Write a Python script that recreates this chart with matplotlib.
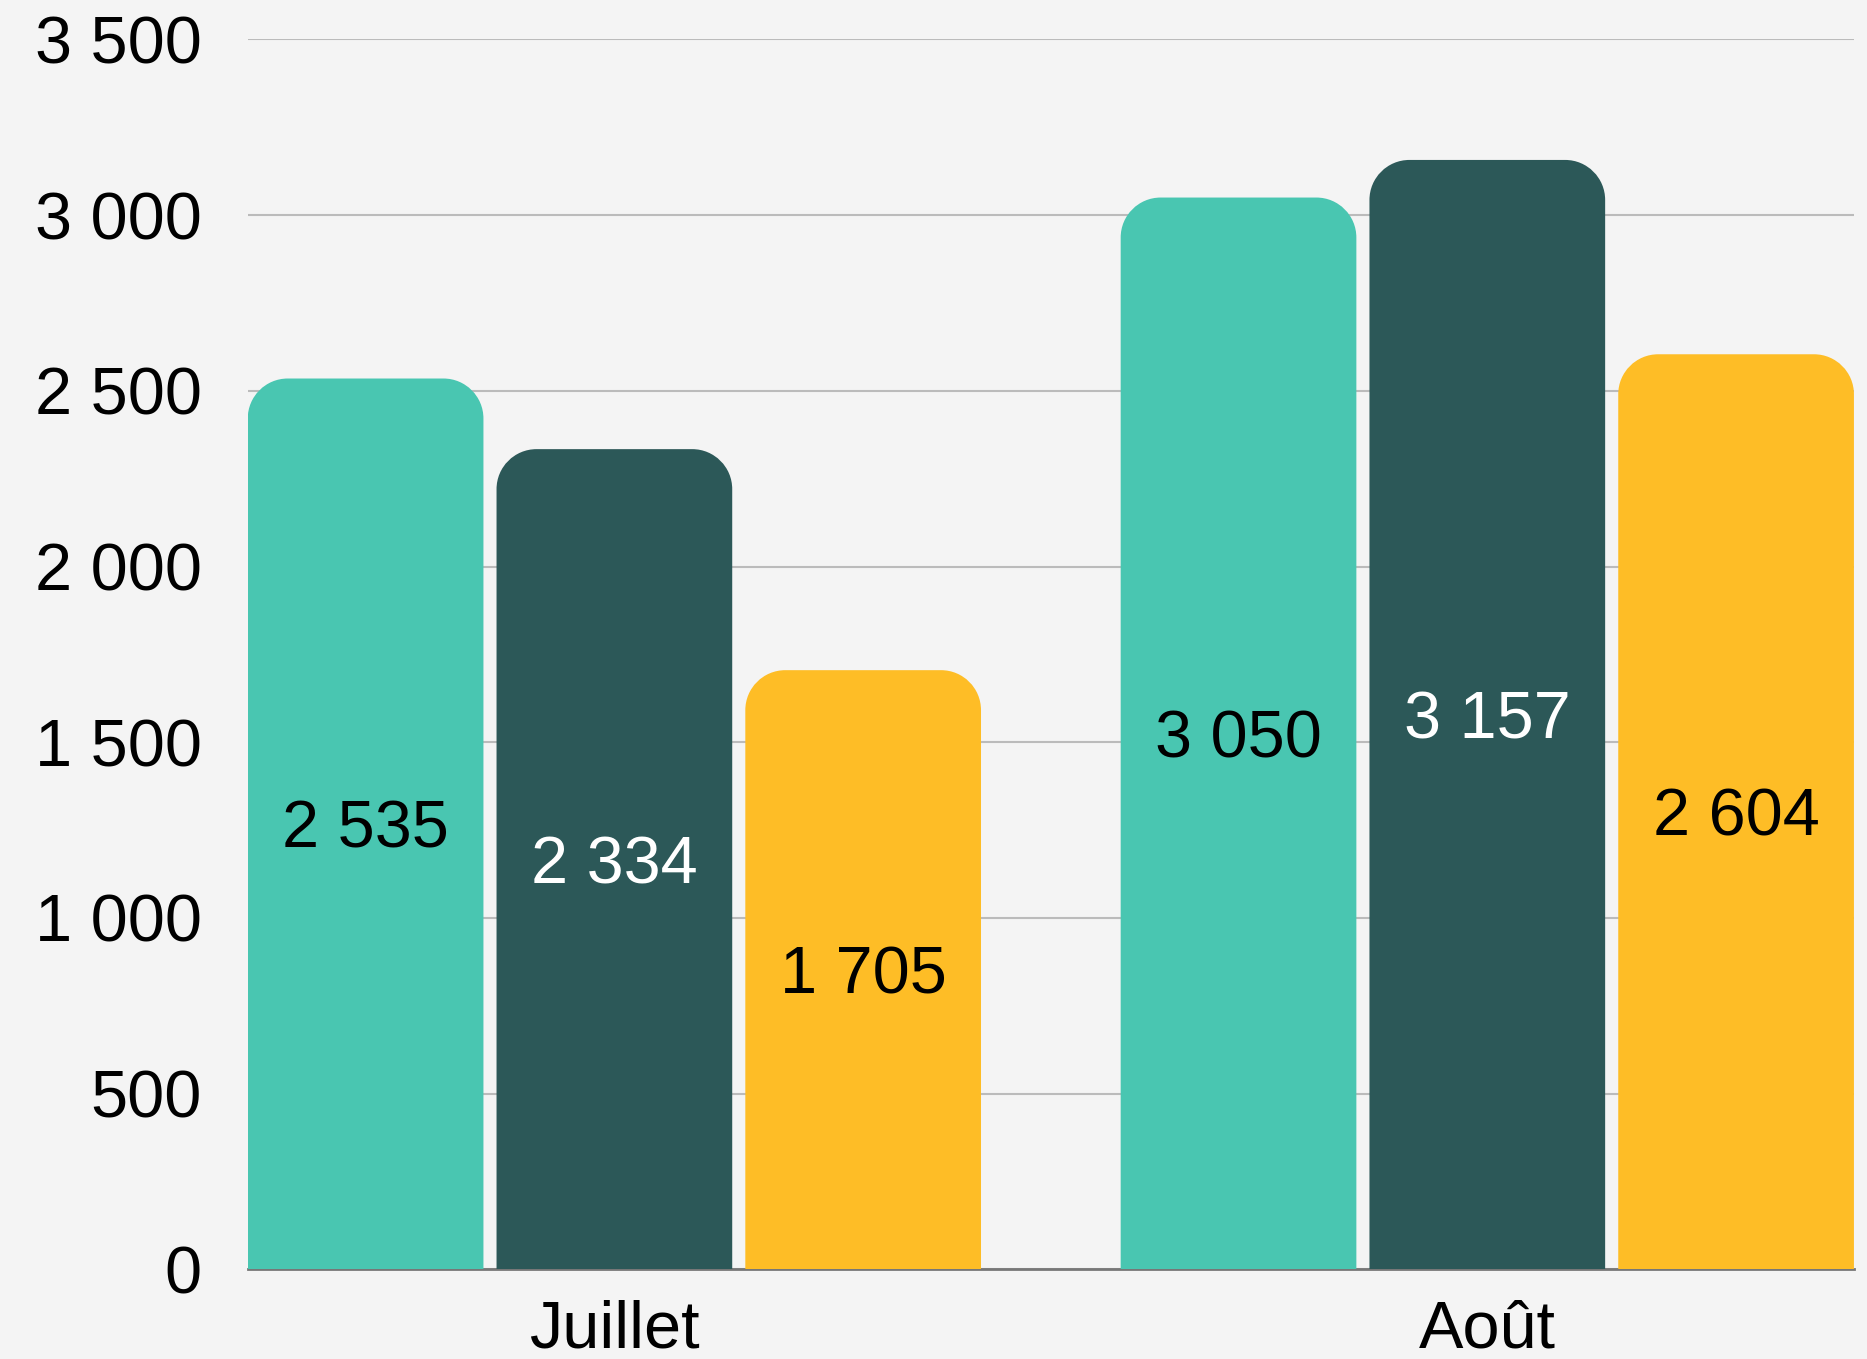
import matplotlib.pyplot as plt
import numpy as np
from matplotlib.path import Path
from matplotlib.patches import PathPatch

# Données
mois = ["Juillet", "Août"]
serie_a = [2535, 3050]
serie_b = [2334, 3157]
serie_c = [1705, 2604]
series = [serie_a, serie_b, serie_c]
couleurs = ["#49C6B1", "#2C5858", "#FEBD26"]
couleurs_texte = ["black", "white", "black"]
yticks = [0, 500, 1000, 1500, 2000, 2500, 3000, 3500]

plt.rcParams['font.family'] = ['Liberation Sans', 'DejaVu Sans']

W, H = 1867, 1359
fig = plt.figure(figsize=(W / 100, H / 100), dpi=100)
fig.patch.set_facecolor("#F4F4F4")
ax = fig.add_axes([0.1327, 0.066, 0.8603, 0.905])
ax.set_facecolor("#F4F4F4")

ax.set_xlim(-0.42, 1.42)
ax.set_ylim(0, 3500)

largeur = 0.27
decalage = [-0.285, 0, 0.285]
x = np.arange(len(mois))

# rayon des coins en unités de données (~40 px)
bbox = ax.get_position()
px_x = bbox.width * W / (1.42 + 0.42)
px_y = bbox.height * H / 3500
rx = 40 / px_x
ry = 40 / px_y
k = 0.5523


def barre_arrondie(x0, w, h, couleur):
    top = h
    verts = [
        (x0, 0), (x0, top - ry),
        (x0, top - ry + k * ry), (x0 + rx - k * rx, top), (x0 + rx, top),
        (x0 + w - rx, top),
        (x0 + w - rx + k * rx, top), (x0 + w, top - ry + k * ry), (x0 + w, top - ry),
        (x0 + w, 0), (x0, 0),
    ]
    codes = [Path.MOVETO, Path.LINETO,
             Path.CURVE4, Path.CURVE4, Path.CURVE4,
             Path.LINETO,
             Path.CURVE4, Path.CURVE4, Path.CURVE4,
             Path.LINETO, Path.CLOSEPOLY]
    patch = PathPatch(Path(verts, codes), facecolor=couleur, edgecolor="none", zorder=3)
    ax.add_patch(patch)


def fmt(v):
    return f"{v:,}".replace(",", " ")


for i, serie in enumerate(series):
    for j, v in enumerate(serie):
        xc = x[j] + decalage[i]
        barre_arrondie(xc - largeur / 2, largeur, v, couleurs[i])
        ax.text(xc, v / 2, fmt(v), ha="center", va="center_baseline",
                fontsize=48, color=couleurs_texte[i], zorder=4)

# grille et axes
ax.set_yticks(yticks)
ax.set_yticklabels([fmt(t) for t in yticks])
ax.yaxis.grid(True, color="#BBBBBB", linewidth=1.5, zorder=0)
ax.set_axisbelow(True)
ax.set_xticks(x)
ax.set_xticklabels(mois)
ax.tick_params(axis="both", length=0, labelsize=48)
ax.tick_params(axis="y", pad=33)
ax.tick_params(axis="x", pad=22)
for s in ["top", "right", "left"]:
    ax.spines[s].set_visible(False)
ax.spines["bottom"].set_color("#777777")
ax.spines["bottom"].set_linewidth(2)
ax.spines["bottom"].set_zorder(2)

fig.savefig("out.png", dpi=100, facecolor=fig.get_facecolor())
